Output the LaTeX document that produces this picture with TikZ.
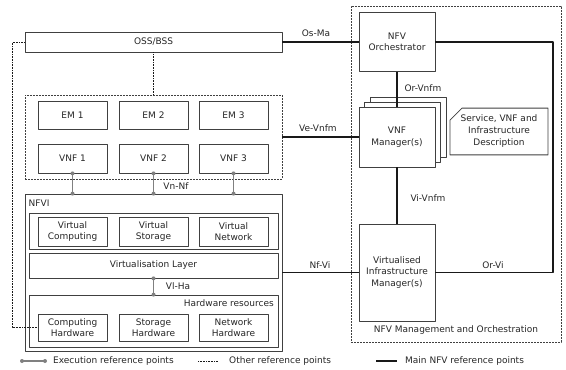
\documentclass[tikz,border=0pt]{standalone}
\usepackage{fontspec}
\setmainfont{DejaVu Sans}
\usetikzlibrary{shapes.misc}

\begin{document}
\begin{tikzpicture}[x=1pt, y=-1pt, line join=round, font=\fontsize{9}{11.5}\selectfont, text=black!85,
	frame/.style={draw=black!75, line width=0.8pt},
	group/.style={frame, dash pattern=on 2pt off 1pt},
	box/.style={frame, fill=white, align=center, inner sep=1pt},
	smallbox/.style={box, minimum width=69pt, minimum height=29pt},
	mgrbox/.style={box, minimum width=76pt},
	mainref/.style={draw=black!90, line width=1.1pt},
	otherref/.style={draw=black!90, line width=0.9pt, dash pattern=on 0.8pt off 0.8pt},
	execref/.style={draw=gray, line width=1.2pt},
	lbl/.style={inner sep=0pt}]
	\useasboundingbox (0,0) rectangle (566,370);
	\node[group, minimum width=210pt, minimum height=336pt] (mano) at (456,174) {};
	\node[group, minimum width=257pt, minimum height=84pt] (vnfs) at (153.5,137) {};
	\node[frame, minimum width=257pt, minimum height=157pt] (nfvi) at (153.5,272.5) {};
	\node[frame, minimum width=249pt, minimum height=36pt] (virt) at (153.5,231) {};
	\node[box, minimum width=249pt, minimum height=25pt] (layer) at (153.5,265.5) {Virtualisation Layer};
	\node[frame, minimum width=249pt, minimum height=52pt] (hw) at (153.5,321) {};
	\node[box, minimum width=257pt, minimum height=20pt] (oss) at (153.5,42) {OSS/BSS};
	\foreach \i/\x in {1/72.5, 2/153.5, 3/233.5} {
		\node[smallbox, minimum height=28pt] (em\i) at (\x,115) {EM \i};
		\node[smallbox] (vnf\i) at (\x,158.5) {VNF \i};
	}
	\foreach \n/\x/\t in {vc/72.5/Computing, vs/153.5/Storage, vn/233.5/Network}
		\node[smallbox] (\n) at (\x,231.5) {Virtual\\\t};
	\foreach \n/\x/\t in {hc/72.5/Computing, hs/153.5/Storage, hn/233.5/Network}
		\node[smallbox, minimum height=27pt] (\n) at (\x,327.5) {\t\\Hardware};
	\node[mgrbox, minimum height=59pt] (nfvo) at (397,42) {NFV\\Orchestrator};
	\node[mgrbox, minimum height=60pt] (vnfmc) at (408,127) {};
	\node[mgrbox, minimum height=60pt] (vnfmb) at (402.5,132) {};
	\node[mgrbox, minimum height=60pt] (vnfm) at (397,137) {VNF\\Manager(s)};
	\node[mgrbox, minimum height=97pt] (vim) at (397,272.5) {Virtualised\\Infrastructure\\Manager(s)};
	\node[box, chamfered rectangle, chamfered rectangle corners=north west, chamfered rectangle sep=6pt,
		minimum width=98pt, minimum height=45pt, font=\fontsize{9}{12}\selectfont] (desc) at (499,131.5) {Service, VNF and\\Infrastructure\\Description};
	\coordinate (orcorner) at (553,272.5);
	\draw[mainref] (oss.east) -- (nfvo.west);
	\draw[mainref] (nfvo.east) -| (orcorner) -- (vim.east);
	\draw[mainref] (vnfs.east) -- (vnfm.west);
	\draw[mainref] (nfvi.east) -- (vim.west);
	\draw[mainref] (nfvo.south) -- (vnfm.north);
	\draw[mainref] (vnfm.south) -- (vim.north);
	\coordinate (ossbend) at (12.5,42);
	\coordinate (hwbend) at (12.5,327.5);
	\draw[otherref] (oss.south) -- (vnfs.north);
	\draw[otherref] (oss.west) -- (ossbend) -- (hwbend) -- (hc.west);
	\foreach \i in {1,2,3} {
		\draw[execref] (vnf\i.south) -- (vnf\i.south |- nfvi.north);
		\fill[gray] (vnf\i.south) circle (2pt) (vnf\i.south |- nfvi.north) circle (2pt);
	}
	\draw[execref] (layer.south) -- (hw.north);
	\fill[gray] (layer.south) circle (2pt) (hw.north) circle (2pt);
	\node[lbl] (osma) at (316,33) {Os-Ma};
	\node[lbl] (vevnfm) at (318,128) {Ve-Vnfm};
	\node[lbl] (nfvi-lbl) at (320,265) {Nf-Vi};
	\node[lbl] (orvi) at (493,265) {Or-Vi};
	\node[lbl] (orvnfm) at (423,88) {Or-Vnfm};
	\node[lbl] (vivnfm) at (428,198) {Vi-Vnfm};
	\node[lbl] (vnnf) at (176,186) {Vn-Nf};
	\node[lbl] (vlha) at (178,286) {Vl-Ha};
	\node[lbl, anchor=west] (nfvitxt) at (28.5,203) {NFVI};
	\node[lbl, anchor=east] (hwtxt) at (274,303) {Hardware resources};
	\node[lbl] (manotxt) at (456,330) {NFV Management and Orchestration};
	\coordinate (ea) at (22,361);
	\coordinate (eb) at (45,361);
	\draw[execref] (ea) -- (eb);
	\fill[gray] (ea) circle (2pt) (eb) circle (2pt);
	\node[lbl, anchor=west] (exectxt) at (53,361) {Execution reference points};
	\coordinate (oa) at (198,361);
	\coordinate (ob) at (218,361);
	\draw[otherref] (oa) -- (ob);
	\node[lbl, anchor=west] (othertxt) at (229,361) {Other reference points};
	\coordinate (ma) at (376,361);
	\coordinate (mb) at (397,361);
	\draw[mainref] (ma) -- (mb);
	\node[lbl, anchor=west] (maintxt) at (405,361) {Main NFV reference points};
\end{tikzpicture}
\end{document}
